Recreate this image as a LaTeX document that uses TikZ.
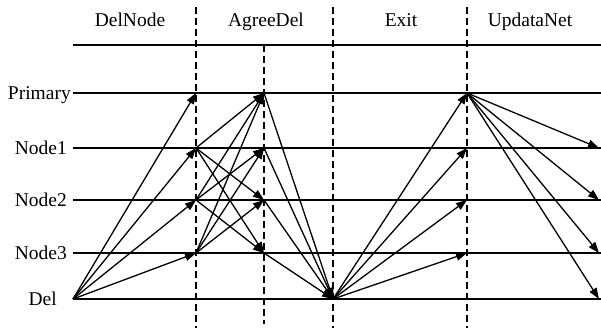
\documentclass[tikz,border=0pt]{standalone}
\usepackage{fontspec}
\setmainfont{Liberation Serif}
\usetikzlibrary{arrows.meta}
\begin{document}
\begin{tikzpicture}[x=1pt,y=-1pt,
  rowline/.style={line width=1.2pt},
  phase/.style={line width=1.1pt, dash pattern=on 7pt off 4pt},
  msg/.style={line width=1.3pt, -{Triangle[length=11pt,width=8pt]}},
  rowlabel/.style={anchor=base east, inner sep=0pt, font=\fontsize{19.5}{22}\selectfont},
  headlabel/.style={anchor=base, inner sep=0pt, font=\fontsize{19.5}{22}\selectfont}]
\useasboundingbox (0,0) rectangle (601,332);

% phase titles
\node[headlabel] (hDel)    at (130,26) {DelNode};
\node[headlabel] (hAgree)  at (266,26) {AgreeDel};
\node[headlabel] (hExit)   at (401,26) {Exit};
\node[headlabel] (hUpdate) at (530,26) {UpdataNet};

% row labels
\node[rowlabel] (lP)  at (71,99)  {Primary};
\node[rowlabel] (l1)  at (67,154) {Node1};
\node[rowlabel] (l2)  at (67,206) {Node2};
\node[rowlabel] (l3)  at (67,259) {Node3};
\node[rowlabel] (lD)  at (57,305) {Del};

% row lines
\draw[rowline] (73,45) -- (601,45);
\foreach \r/\y in {P/93,1/148,2/200,3/253,D/299}{
  \coordinate (s\r) at (73,\y);
  \coordinate (a\r) at (196,\y);
  \coordinate (b\r) at (264,\y);
  \coordinate (c\r) at (333,\y);
  \coordinate (d\r) at (467,\y);
  \coordinate (e\r) at (599,\y);
  \draw[rowline] (s\r) -- (601,\y);
}

% phase separators
\draw[phase] (196,7) -- (196,328);
\draw[phase] (264,45) -- (264,324);
\draw[phase] (333,7) -- (333,328);
\draw[phase] (467,7) -- (467,328);

% DelNode: Del informs every node
\foreach \t in {P,1,2,3}{ \draw[msg] (sD) -- (a\t); }

% AgreeDel: nodes exchange agreement
\foreach \t in {P,2,3}{ \draw[msg] (a1) -- (b\t); }
\foreach \t in {P,1,3}{ \draw[msg] (a2) -- (b\t); }
\foreach \t in {P,1,2}{ \draw[msg] (a3) -- (b\t); }

% Exit: confirmations to Del
\foreach \f in {P,1,2,3}{ \draw[msg] (b\f) -- (cD); }

% Del leaves
\foreach \t in {P,1,2,3}{ \draw[msg] (cD) -- (d\t); }

% UpdataNet: Primary broadcasts
\foreach \t in {1,2,3,D}{ \draw[msg] (dP) -- (e\t); }
\end{tikzpicture}
\end{document}
